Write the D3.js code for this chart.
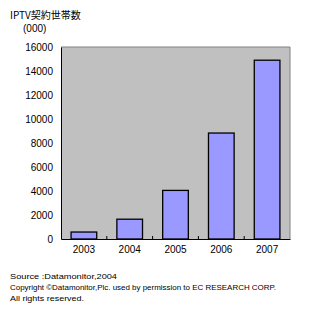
<!DOCTYPE html>
<html>
<head>
<meta charset="utf-8">
<script src="https://cdn.jsdelivr.net/npm/d3@7"></script>
<style>
  body { margin: 0; background: #fff; }
  text { font-family: "Liberation Sans", "Noto Sans CJK JP", sans-serif; }
</style>
</head>
<body>
<svg id="chart"></svg>
<script>
const W = 309, H = 312, M = {t:47, r:19, b:73, l:61};

const years = ["2003","2004","2005","2006","2007"];
const subs = [580, 1650, 4050, 8830, 14900];
const yTicks = [0, 2000, 4000, 6000, 8000, 10000, 12000, 14000, 16000];
const title = "IPTV契約世帯数";
const unit = "(000)";
const notes = [
  "Source :Datamonitor,2004",
  "Copyright ©Datamonitor,Plc. used by permission to EC RESEARCH CORP.",
  "All rights reserved."
];

const svg = d3.select("#chart").attr("width", W).attr("height", H);
const innerW = W - M.l - M.r, innerH = H - M.t - M.b;
const g = svg.append("g").attr("transform", `translate(${M.l},${M.t})`);

const x = d3.scaleBand().domain(years).range([0, innerW]).paddingInner(0.44).paddingOuter(0.22);
const y = d3.scaleLinear().domain([0, 16000]).range([innerH, 0]);

// plot background
g.append("rect").attr("width", innerW).attr("height", innerH).attr("fill", "#c0c0c0");
g.append("path")
  .attr("d", `M0,0H${innerW}V${innerH}`)
  .attr("fill", "none").attr("stroke", "#808080").attr("stroke-width", 1);

// bars
g.selectAll(".bar").data(years).join("rect")
  .attr("class", "bar")
  .attr("x", d => x(d))
  .attr("y", (d, i) => y(subs[i]))
  .attr("width", x.bandwidth())
  .attr("height", (d, i) => innerH - y(subs[i]))
  .attr("fill", "#9999ff")
  .attr("stroke", "#000")
  .attr("stroke-width", 1.3);

// y axis
const ya = g.append("g").call(d3.axisLeft(y).tickValues(yTicks).tickSize(0).tickPadding(8).tickFormat(d3.format("d")));
ya.select(".domain").attr("stroke", "#000");
ya.selectAll("text").attr("font-size", 10).attr("fill", "#000");

// x axis
const xa = g.append("g").attr("transform", `translate(0,${innerH})`)
  .call(d3.axisBottom(x).tickSize(0).tickPadding(7));
xa.select(".domain").attr("stroke", "#000");
xa.selectAll("text").attr("font-size", 10).attr("fill", "#000");

// category separators
const step = x.step();
g.selectAll(".sep").data(years.slice(1)).join("line")
  .attr("class", "sep")
  .attr("x1", d => x(d) - step * x.paddingInner() / 2)
  .attr("x2", d => x(d) - step * x.paddingInner() / 2)
  .attr("y1", innerH).attr("y2", innerH - 3)
  .attr("stroke", "#000");

// titles
svg.append("text").attr("x", 10).attr("y", 19).attr("font-size", 10)
  .style("font-family", "'Noto Sans CJK JP', sans-serif").text(title);
svg.append("text").attr("x", 23).attr("y", 32).attr("font-size", 10).text(unit);

// footnotes
const noteW = [107, 266, 74];
svg.selectAll(".note").data(notes).join("text")
  .attr("class", "note")
  .attr("x", 10)
  .attr("y", (d, i) => 279 + i * 11)
  .attr("font-size", 8)
  .attr("textLength", (d, i) => noteW[i])
  .attr("lengthAdjust", "spacingAndGlyphs")
  .text(d => d);
</script>
</body>
</html>
